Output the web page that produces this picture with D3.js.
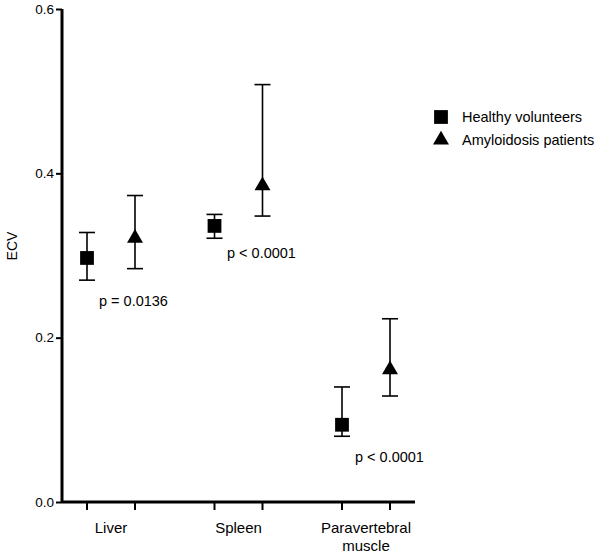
<!DOCTYPE html>
<html>
<head>
<meta charset="utf-8">
<script src="https://cdn.jsdelivr.net/npm/d3@7"></script>
<style>
  body { margin: 0; background: #fff; }
  text { font-family: "Liberation Sans", Arial, sans-serif; fill: #000; }
</style>
</head>
<body>
<div id="chart"></div>
<script>
const categories = ["Liver", "Spleen", "Paravertebral muscle"];
const seriesNames = ["Healthy volunteers", "Amyloidosis patients"];
const healthyMean  = [0.297, 0.336, 0.094];
const healthyUpper = [0.328, 0.350, 0.140];
const healthyLower = [0.270, 0.321, 0.080];
const amyloidMean  = [0.321, 0.385, 0.161];
const amyloidUpper = [0.373, 0.508, 0.223];
const amyloidLower = [0.284, 0.348, 0.129];
const pValues = ["p = 0.0136", "p < 0.0001", "p < 0.0001"];
const yTicks = [0, 0.2, 0.4, 0.6];

const width = 600, height = 558;
const svg = d3.select("#chart").append("svg")
  .attr("width", width)
  .attr("height", height);

const x = d3.scalePoint().domain(categories).range([111, 366]);
const y = d3.scaleLinear().domain([0, 0.6]).range([502, 9]);
const offset = 24;

// y axis
const yAxis = svg.append("g")
  .attr("transform", "translate(62,0)")
  .call(d3.axisLeft(y).tickValues(yTicks).tickFormat(d3.format(".1f")).tickSize(6).tickPadding(2));
yAxis.select(".domain").attr("stroke-width", 3).attr("d", `M0,${y(0.6)}V${y(0)}`);
yAxis.selectAll(".tick line").attr("stroke-width", 2);
yAxis.selectAll(".tick text").style("font-size", "13.5px").attr("font-family", null);

// x axis line and ticks
svg.append("line")
  .attr("x1", 62).attr("x2", 415)
  .attr("y1", y(0)).attr("y2", y(0))
  .attr("stroke", "#000").attr("stroke-width", 3);

categories.forEach(c => {
  [-offset, offset].forEach(o => {
    svg.append("line")
      .attr("x1", x(c) + o).attr("x2", x(c) + o)
      .attr("y1", y(0)).attr("y2", y(0) + 8)
      .attr("stroke", "#000").attr("stroke-width", 2);
  });
});

// category labels
categories.forEach(c => {
  const words = c === "Paravertebral muscle" ? ["Paravertebral", "muscle"] : [c];
  const t = svg.append("text")
    .attr("text-anchor", "middle")
    .style("font-size", "15px");
  words.forEach((w, i) => {
    t.append("tspan").attr("x", x(c)).attr("y", 533 + i * 18).text(w);
  });
});

// y label
svg.append("text")
  .attr("transform", "translate(17,246) rotate(-90)")
  .attr("text-anchor", "middle")
  .style("font-size", "14px")
  .text("ECV");

const series = [
  { mean: healthyMean, upper: healthyUpper, lower: healthyLower, dx: -offset, symbol: d3.symbolSquare, size: 190 },
  { mean: amyloidMean, upper: amyloidUpper, lower: amyloidLower, dx: offset, symbol: d3.symbolTriangle, size: 110 }
];

series.forEach(s => {
  const g = svg.append("g");
  categories.forEach((c, i) => {
    const cx = x(c) + s.dx;
    g.append("line")
      .attr("x1", cx).attr("x2", cx)
      .attr("y1", y(s.upper[i])).attr("y2", y(s.lower[i]))
      .attr("stroke", "#000").attr("stroke-width", 1.6);
    [s.upper[i], s.lower[i]].forEach(v => {
      g.append("line")
        .attr("x1", cx - 8).attr("x2", cx + 8)
        .attr("y1", y(v)).attr("y2", y(v))
        .attr("stroke", "#000").attr("stroke-width", 1.6);
    });
    g.append("path")
      .attr("d", d3.symbol().type(s.symbol).size(s.size)())
      .attr("transform", `translate(${cx},${y(s.mean[i])})`)
      .attr("fill", "#000");
  });
});

// p-value annotations
const pPos = [[99, 306], [227, 258], [355, 462]];
pValues.forEach((p, i) => {
  svg.append("text")
    .attr("x", pPos[i][0]).attr("y", pPos[i][1])
    .style("font-size", "14.5px")
    .text(p);
});

// legend
const legend = svg.append("g").attr("transform", "translate(441,117)");
series.forEach((s, i) => {
  legend.append("path")
    .attr("d", d3.symbol().type(s.symbol).size(s.size)())
    .attr("transform", `translate(0,${i * 23})`)
    .attr("fill", "#000");
  legend.append("text")
    .attr("x", 21).attr("y", i * 23 + 5)
    .style("font-size", "14.5px")
    .text(seriesNames[i]);
});
</script>
</body>
</html>
